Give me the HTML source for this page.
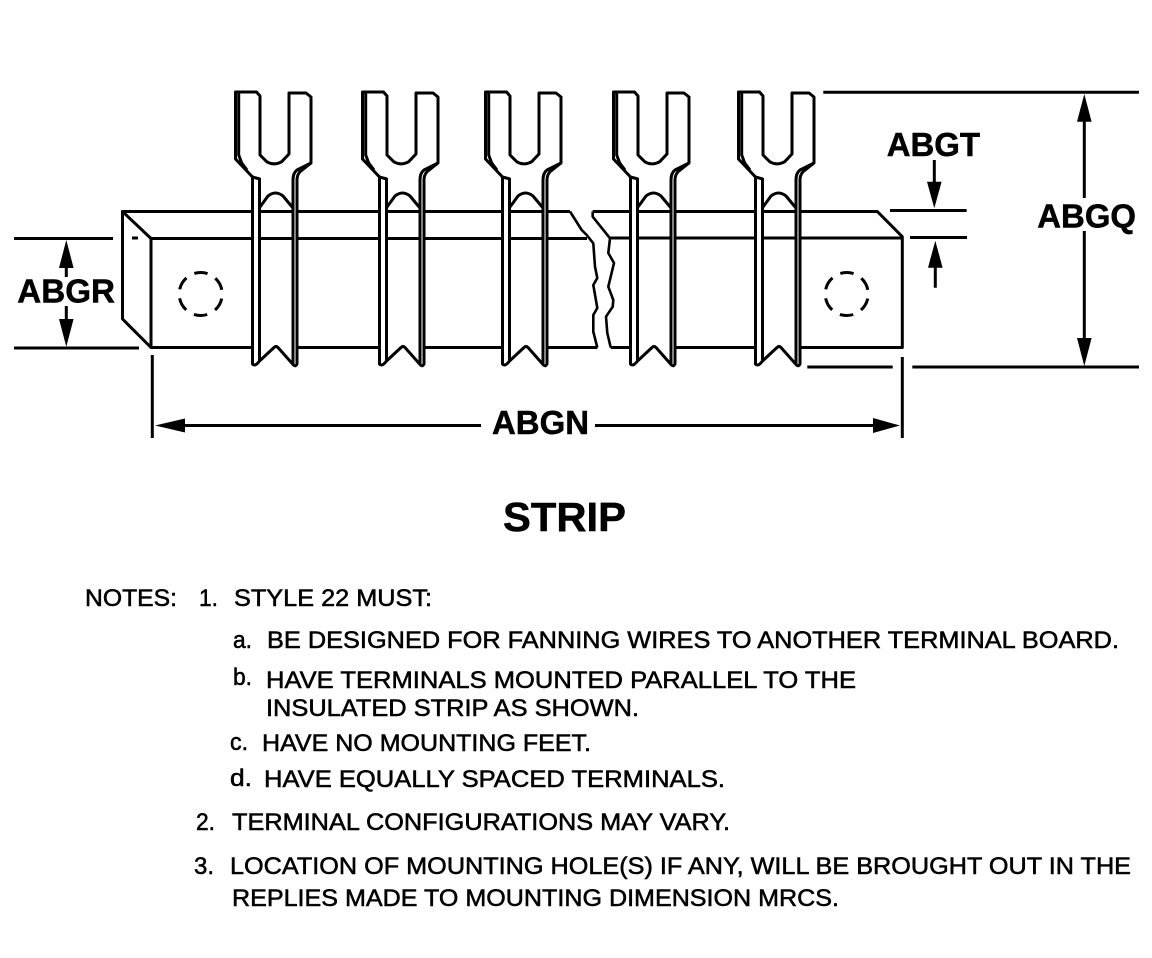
<!DOCTYPE html>
<html><head><meta charset="utf-8"><style>
html,body{margin:0;padding:0;background:#fff}
svg{display:block}
text{font-family:"Liberation Sans",Arial,sans-serif;fill:#000}
.n{font-size:24.5px}
.n text{stroke:#000;stroke-width:.55px}
.b{font-size:33px;font-weight:bold;stroke:#000;stroke-width:.5px}
.l{stroke:#000;stroke-width:3;fill:none;stroke-linejoin:round}
.t{stroke:#000;stroke-width:3;fill:none;stroke-linejoin:round}
</style></head><body>
<svg width="1152" height="958" viewBox="0 0 1152 958" xmlns="http://www.w3.org/2000/svg">
<defs>
<g id="term">
<path d="M252.5 177H259.5V361L256 366H253.5L252.5 364ZM293 176H297V364L295.5 366H294L293 365Z" fill="#fff"/>
<path d="M252.5 345.5H297V368H252.5Z" fill="#fff"/>
<path class="t" d="M235.5 92H256.5L260 96V155L266.7 161.7Q274 166 281.7 161.7L289 154V93H306L311 97V163L300 171.7Q297 175 297 180V364Q295.5 367 293.5 365L278 347.5Q276 345.5 274 347.5L259.5 361Q255 367 252.5 364V177L235.5 159Z"/>
<path class="t" d="M238.7 92V155L241.7 163L247 170M259.5 178V361M252.5 177L260 179M311 163L297 170Q293 173 293 180V365M260 207L268 196Q275.5 190 283 196L293 208"/>
</g>
<circle id="hole" r="21.5" fill="none" stroke="#000" stroke-width="3" stroke-dasharray="13.5 9.02" stroke-dashoffset="-4.58"/>
</defs>

<!-- block -->
<g class="l">
<path d="M570 211.5H122.5V319L151 347.5H597.5"/>
<path d="M122.5 211.5L151 238.5V347.5"/>
<path d="M151 238.5H587"/>
<path d="M570 211.5L581.7 230L586.7 235L593.3 243.3L595 266.7L597.3 278L593.3 285L597.3 308L593.3 315L593.3 331.7L597.3 347.5" stroke-width="2.6"/>
<path d="M592.7 211.5V216.7L610 238.3L608.3 253L614 263L608.3 286.7L613.3 300L612.7 306.7L606 316.7L607.3 333L610.7 347.5" stroke-width="2.6"/>
<path d="M592.7 211.5H877.3L902.3 236.7V347.5H610.7"/>
<path d="M610 238H902.3"/>
</g>
<path d="M132 238H138" stroke="#000" stroke-width="3"/>

<use href="#term"/>
<use href="#term" x="127"/>
<use href="#term" x="250"/>
<use href="#term" x="378"/>
<use href="#term" x="503"/>

<use href="#hole" x="200.7" y="294"/>
<use href="#hole" x="846.7" y="294"/>

<!-- dimensions -->
<g class="l" stroke-linecap="butt">
<path d="M14 238.5H113M14 348H139"/>
<path d="M66.3 262V277M66.3 306V325"/>
<path d="M152.3 355V438M902.3 357V438"/>
<path d="M180 425.5H481M595 425.5H875"/>
<path d="M823.3 92.3H1139M807.3 367H892.7M912.3 367H1139"/>
<path d="M1084.3 115V198M1084.3 231V345"/>
<path d="M890 210.5H966.7M910 237.5H967"/>
<path d="M934.3 160V190M935.3 260V287.7"/>
</g>
<g fill="#000">
<polygon points="66.3,240 59,268 73.6,268"/>
<polygon points="66.3,346.7 59,319 73.6,319"/>
<polygon points="155,425.5 185,418.5 185,432.5"/>
<polygon points="900,425.5 873,418 873,433"/>
<polygon points="1084.3,94 1077,121.7 1091.6,121.7"/>
<polygon points="1084.3,366 1077,338 1091.6,338"/>
<polygon points="934.3,208.3 927,181.7 941.6,181.7"/>
<polygon points="935.3,240.7 928,267.7 942.6,267.7"/>
</g>

<!-- labels -->
<text class="b" x="17.3" y="302.7" textLength="97.7" lengthAdjust="spacingAndGlyphs">ABGR</text>
<text class="b" x="492" y="434" textLength="97" lengthAdjust="spacingAndGlyphs">ABGN</text>
<text class="b" x="886.7" y="156" textLength="93.3" lengthAdjust="spacingAndGlyphs">ABGT</text>
<text class="b" x="1037.3" y="227.5" textLength="98.7" lengthAdjust="spacingAndGlyphs">ABGQ</text>
<text x="503" y="531" font-size="41" font-weight="bold" stroke="#000" stroke-width=".5" textLength="123" lengthAdjust="spacingAndGlyphs">STRIP</text>

<!-- notes -->
<g class="n">
<text x="85" y="606" textLength="92" lengthAdjust="spacingAndGlyphs">NOTES:</text>
<text x="199" y="606" textLength="19" lengthAdjust="spacingAndGlyphs">1.</text>
<text x="234" y="606" textLength="198" lengthAdjust="spacingAndGlyphs">STYLE 22 MUST:</text>
<text x="233" y="648" textLength="19" lengthAdjust="spacingAndGlyphs">a.</text>
<text x="267" y="648" textLength="852" lengthAdjust="spacingAndGlyphs">BE DESIGNED FOR FANNING WIRES TO ANOTHER TERMINAL BOARD.</text>
<text x="233" y="685" textLength="19" lengthAdjust="spacingAndGlyphs">b.</text>
<text x="266" y="688" textLength="590" lengthAdjust="spacingAndGlyphs">HAVE TERMINALS MOUNTED PARALLEL TO THE</text>
<text x="266" y="716" textLength="373" lengthAdjust="spacingAndGlyphs">INSULATED STRIP AS SHOWN.</text>
<text x="230" y="750" textLength="18" lengthAdjust="spacingAndGlyphs">c.</text>
<text x="262" y="751" textLength="329" lengthAdjust="spacingAndGlyphs">HAVE NO MOUNTING FEET.</text>
<text x="230" y="786" textLength="22" lengthAdjust="spacingAndGlyphs">d.</text>
<text x="264" y="787" textLength="461" lengthAdjust="spacingAndGlyphs">HAVE EQUALLY SPACED TERMINALS.</text>
<text x="196" y="830" textLength="19" lengthAdjust="spacingAndGlyphs">2.</text>
<text x="232" y="830" textLength="498" lengthAdjust="spacingAndGlyphs">TERMINAL CONFIGURATIONS MAY VARY.</text>
<text x="194" y="874" textLength="20" lengthAdjust="spacingAndGlyphs">3.</text>
<text x="230" y="874" textLength="901" lengthAdjust="spacingAndGlyphs">LOCATION OF MOUNTING HOLE(S) IF ANY, WILL BE BROUGHT OUT IN THE</text>
<text x="232" y="906" textLength="607" lengthAdjust="spacingAndGlyphs">REPLIES MADE TO MOUNTING DIMENSION MRCS.</text>
</g>
</svg>
</body></html>
